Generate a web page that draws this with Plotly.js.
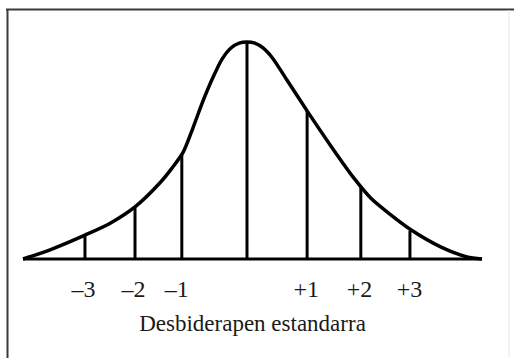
<!DOCTYPE html>
<html>
<head>
<meta charset="utf-8">
<script src="https://cdn.plot.ly/plotly-3.0.1.min.js"></script>
<style>html,body{margin:0;padding:0;background:#fff;}#chart{width:514px;height:358px;}</style>
</head>
<body>
<div id="chart"></div>
<script>
// Skewed distribution curve (x: score units, y: relative density)
const curveX = [0, 5.9, 13.5, 19.0, 24.4, 29.8, 32.5, 34.9, 37.0, 39.2, 41.4, 43.4, 45.3, 47.1, 48.8, 50.5, 52.3, 54.3, 57.5, 61.9, 67.1, 72.1, 75.8, 79.3, 84.5, 91.1, 96.7, 100];
const curveY = [0, 0.017, 0.044, 0.066, 0.096, 0.140, 0.168, 0.197, 0.241, 0.291, 0.335, 0.369, 0.389, 0.398, 0.400, 0.398, 0.389, 0.371, 0.330, 0.273, 0.208, 0.149, 0.112, 0.087, 0.054, 0.022, 0.004, 0];

// Standard deviation markers (-3 .. +3, with the mean in the middle)
const sdX = [13.5, 24.4, 34.6, 48.8, 61.9, 73.6, 84.3];
const sdY = [0.044, 0.096, 0.193, 0.400, 0.273, 0.131, 0.052];

// Tick labels under the baseline
const tickLabels = ['\u20133', '\u20132', '\u20131', '+1', '+2', '+3'];
const tickX = [13.2, 24.1, 33.5, 61.7, 73.3, 84.2];

const axisTitle = 'Desbiderapen estandarra';

// build vertical segments
const vx = [], vy = [];
sdX.forEach((x, i) => { vx.push(x, x, null); vy.push(0, sdY[i], null); });

const traces = [
  { x: [curveX[0], curveX[curveX.length - 1]], y: [0, 0], mode: 'lines',
    line: { color: '#000', width: 3 }, hoverinfo: 'skip' },
  { x: vx, y: vy, mode: 'lines', line: { color: '#000', width: 3 }, hoverinfo: 'skip' },
  { x: curveX, y: curveY, mode: 'lines', line: { color: '#000', width: 3.5, shape: 'spline', smoothing: 0.8 }, hoverinfo: 'skip' }
];

// pixel helpers for frame lines (plot area: l=18, r=27, t=35, b=92 in a 514x358 figure)
const L = 18, R = 27, T = 35, B = 92, W = 514, H = 358;
const pw = W - L - R, ph = H - T - B;
const px = v => (v - L) / pw;
const py = v => (H - B - v) / ph;

const layout = {
  width: W, height: H,
  margin: { l: L, r: R, t: T, b: B, pad: 0 },
  paper_bgcolor: '#fff', plot_bgcolor: 'rgba(0,0,0,0)',
  showlegend: false,
  font: { family: '"Liberation Serif", "Times New Roman", serif', color: '#1a1a1a' },
  xaxis: {
    range: [-1.089, 101.089], showgrid: false, zeroline: false, showline: false,
    ticks: '', tickvals: tickX, ticktext: tickLabels,
    tickfont: { size: 24, family: '"Liberation Serif", serif', color: '#1a1a1a' },
    ticklabelstandoff: 6,
    title: { text: axisTitle, font: { size: 23, family: '"Liberation Serif", serif', color: '#1a1a1a' }, standoff: 13 },
    fixedrange: true
  },
  yaxis: {
    range: [-0.0129, 0.4129], showgrid: false, zeroline: false, showline: false,
    showticklabels: false, ticks: '', fixedrange: true
  },
  shapes: [
    { type: 'line', xref: 'paper', yref: 'paper', x0: px(6), x1: px(520), y0: py(9.5), y1: py(9.5), line: { color: '#3a3a3a', width: 2 } },
    { type: 'line', xref: 'paper', yref: 'paper', x0: px(7.5), x1: px(7.5), y0: py(9), y1: py(365), line: { color: '#3a3a3a', width: 2 } },
    { type: 'line', xref: 'paper', yref: 'paper', x0: px(509), x1: px(509), y0: py(10), y1: py(365), line: { color: '#e6e6e6', width: 1 } }
  ]
};

Plotly.newPlot('chart', traces, layout, { staticPlot: true, displayModeBar: false });
</script>
</body>
</html>
